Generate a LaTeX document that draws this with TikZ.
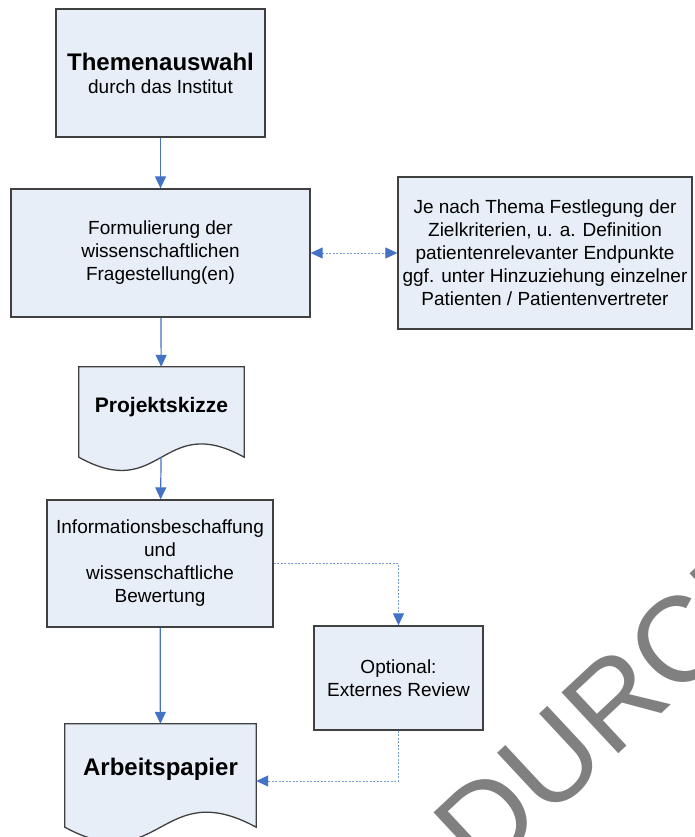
\documentclass[tikz,border=0pt]{standalone}
\usepackage{fontspec}
\setmainfont{Liberation Sans}
\usetikzlibrary{positioning, arrows.meta, backgrounds}

\definecolor{boxfill}{RGB}{232,238,247}
\definecolor{boxline}{RGB}{64,64,64}
\definecolor{flow}{RGB}{68,114,196}
\definecolor{flowlight}{RGB}{120,156,214}

\begin{document}
\begin{tikzpicture}[x=1pt, y=-1pt]
        \tikzset{box/.style = {draw=boxline, line width=1.3pt, fill=boxfill, align=center, inner sep=0pt, font=\fontsize{19}{23}\selectfont}}
        \tikzset{doc/.style = {align=center, inner sep=0pt, font=\bfseries\fontsize{#1}{#1}\selectfont}}
        \tikzset{docline/.style = {draw=boxline, line width=1.3pt, fill=boxfill}}
        \tikzset{flowedge/.style = {draw=flow, line width=1.2pt, -{Triangle[length=12pt, width=11pt]}}}
        \tikzset{optedge/.style = {draw=flowlight, line width=1pt, dash pattern=on 2pt off 1.5pt, -{Triangle[length=12pt, width=11pt, color=flow]}}}
        \tikzset{wmark/.style = {text=black!50, font=\fontsize{121}{121}\selectfont, rotate=43, anchor=base west}}

        \useasboundingbox (0,0) rectangle (694,837);

        % watermark
        \begin{scope}
            \clip (0,0) rectangle (694,837);
            \node[wmark] (wm) at (481,882.5) {DURCH};
        \end{scope}

        \node[box, minimum width=209, minimum height=128] (them) at (160.5,73) {{\bfseries\fontsize{24}{26}\selectfont Themenauswahl}\\durch das Institut};
        \node[box, minimum width=299, minimum height=128] (frag) at (160.5,253) {Formulierung der\\wissenschaftlichen\\Fragestellung(en)};
        \node[box, minimum width=294, minimum height=152] (ziel) at (545,253) {Je nach Thema Festlegung der\\Zielkriterien, u. a. Definition\\patientenrelevanter Endpunkte\\ggf. unter Hinzuziehung einzelner\\Patienten / Patientenvertreter};
        \node[doc=21, minimum width=165, minimum height=90, text depth=14pt] (proj) at (161.5,412) {Projektskizze};
        \node[box, minimum width=226, minimum height=127] (info) at (160,563.5) {Informationsbeschaffung\\und\\wissenschaftliche\\Bewertung};
        \node[box, minimum width=169, minimum height=104] (opt) at (398.5,678) {Optional:\\Externes Review};
        \node[doc=24, minimum width=191, minimum height=103, text depth=17pt] (arbeit) at (160.5,775.5) {Arbeitspapier};

        % document outlines
        \begin{scope}[on background layer]
            \filldraw[docline] (proj.south west) -- (proj.north west) -- (proj.north east) -- (proj.south east)
                .. controls ([yshift=46pt]proj.south) and ([yshift=-46pt]proj.south) .. cycle;
            \filldraw[docline] (arbeit.south west) -- (arbeit.north west) -- (arbeit.north east) -- (arbeit.south east)
                .. controls ([yshift=52pt]arbeit.south) and ([yshift=-52pt]arbeit.south) .. cycle;
        \end{scope}

        % arrows
        \draw[flowedge] (them) -- (frag);
        \draw[optedge, {Triangle[length=12pt, width=11pt, color=flow]}-{Triangle[length=12pt, width=11pt, color=flow]}] (frag) -- (ziel);
        \draw[flowedge] (frag) -- (proj);
        \draw[flowedge] (proj) -- (info);
        \draw[optedge] (info) -| (opt);
        \draw[optedge] (opt) |- ([yshift=-5.5pt]arbeit.east);
        \draw[flowedge] (info) -- (arbeit);

    \end{tikzpicture}
\end{document}
